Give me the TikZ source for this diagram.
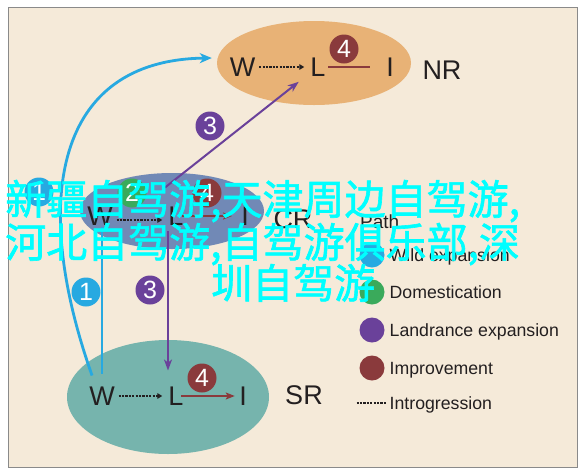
\documentclass[tikz,border=0pt]{standalone}
\usepackage{fontspec}
\setmainfont{Liberation Sans}
\newfontfamily\cjkfont[FakeBold=1.5]{Noto Sans CJK SC}
\usetikzlibrary{arrows.meta,shapes.geometric}
\definecolor{bgbeige}{HTML}{F5EAD9}
\definecolor{framegray}{HTML}{8A8A8A}
\definecolor{nrfill}{HTML}{E8B276}
\definecolor{crfill}{HTML}{7189B6}
\definecolor{srfill}{HTML}{76B4AD}
\definecolor{bluel}{HTML}{27A9E1}
\definecolor{purplel}{HTML}{6A419A}
\definecolor{greenl}{HTML}{3AAA5B}
\definecolor{redl}{HTML}{8A3A3C}
\definecolor{ink}{HTML}{231F20}
\definecolor{wmcyan}{HTML}{00FFFF}
\begin{document}
\begin{tikzpicture}[x=1pt,y=-1pt,
  letter/.style={font=\fontsize{27}{30}\selectfont, text=ink, inner sep=0pt},
  badge/.style={circle, inner sep=0pt, minimum size=29pt, text=white, font=\fontsize{25}{25}\selectfont},
  legdot/.style={circle, inner sep=0pt, minimum size=25pt},
  legtext/.style={anchor=base west, inner sep=0pt, text=ink, font=\fontsize{17.7}{20}\selectfont},
  wm/.style={anchor=base west, inner sep=0pt, text=wmcyan, font=\cjkfont\fontsize{41}{44}\selectfont},
  dotarrow/.style={draw=ink, line width=2pt, dash pattern=on 2.2pt off 1.2pt, -{Triangle[length=5pt,width=5.5pt]}, shorten <=3.7pt, shorten >=6pt},
  blueline/.style={draw=bluel, line width=2.8pt},
  purpleline/.style={draw=purplel, line width=2pt, -{Stealth[length=11pt,width=8pt,inset=3pt]}},
  redline/.style={draw=redl, line width=2.4pt},
  region/.style={ellipse, inner sep=0pt}
]
\useasboundingbox (0,0) rectangle (582,475);
\fill[white] (0,0) rectangle (582,475);
\filldraw[fill=bgbeige, draw=framegray, line width=1pt] (8,7) rectangle (577,467);

% regions
\node[region, fill=nrfill, minimum width=194pt, minimum height=84pt] (nr) at (314,63) {};
\node[region, fill=crfill, minimum width=184pt, minimum height=76pt] (cr) at (172,211) {};
\node[region, fill=srfill, minimum width=202pt, minimum height=114pt] (sr) at (168,397) {};

% letters
\node[letter] (nrW) at (242.5,67) {W};
\node[letter] (nrL) at (318,67) {L};
\node[letter] (nrI) at (390,67) {I};
\node[letter] (nrLab) at (442,70) {NR};

\node[letter] (crW) at (100,216) {W};
\node[letter] (crL) at (176,216) {L};
\node[letter] (crI) at (245,216) {I};
\node[letter] (crLab) at (293,219) {CR};

\node[letter] (srW) at (102,396) {W};
\node[letter] (srL) at (176,396) {L};
\node[letter] (srI) at (243,396) {I};
\node[letter] (srLab) at (304,395) {SR};

% connectors
\draw[blueline, -{Stealth[length=12pt,width=10pt,inset=3.5pt]}]
  ([xshift=3pt,yshift=11pt]srW.north west) .. controls (30,200) and (55,60) .. ([xshift=-5pt,yshift=5pt]nr.west);
\draw[blueline] ([xshift=2pt,yshift=-2pt]crW.south) -- ([yshift=13pt]srW.north);
\draw[purpleline] ([xshift=-11pt,yshift=19pt]crL.north) -- ([xshift=-11.5pt,yshift=-5.3pt]nrL.south west);
\draw[purpleline] ([xshift=-8pt,yshift=-6pt]crL.south) -- ([xshift=-8pt,yshift=16pt]srL.north);

\draw[dotarrow] (nrW.east) -- (nrL.west);
\draw[dotarrow] ([yshift=-4pt]crW.east) -- ([yshift=-4pt]crL.west);
\draw[dotarrow] (srW.east) -- (srL.west);

\draw[redline, shorten <=2.5pt, shorten >=16pt] (nrL.east) -- (nrI.west);
\draw[redline, -{Stealth[length=9pt,width=7pt,inset=2pt]}, shorten <=-2pt, shorten >=9pt] (crL.east) -- (crI.west);
\draw[redline, -{Stealth[length=9pt,width=7pt,inset=2pt]}, shorten <=-2.5pt, shorten >=4.3pt] (srL.east) -- (srI.west);

% badges
\node[badge, fill=redl] (b4nr) at (344,49) {4};
\node[badge, fill=greenl] (b2cr) at (132,193) {2};
\node[badge, fill=redl] (b4cr) at (207,193) {4};
\node[badge, fill=bluel] (b1up) at (39,192) {1};
\node[badge, fill=bluel] (b1low) at (86,292) {1};
\node[badge, fill=purplel] (b3low) at (150,290) {3};
\node[badge, fill=purplel] (b3up) at (210,126) {3};
\node[badge, fill=redl] (b4sr) at (202,378) {4};

% legend
\node[legtext, font=\fontsize{19}{22}\selectfont] (path) at (360,228) {Path};
\node[legdot, fill=bluel] (lg1) at (372,255) {};
\node[legtext] (lt1) at (389.5,261.3) {Wild expansion};
\node[legdot, fill=greenl] (lg2) at (372,292) {};
\node[legtext] (lt2) at (389.5,298.3) {Domestication};
\node[legdot, fill=purplel] (lg3) at (372,330) {};
\node[legtext] (lt3) at (389.5,336.3) {Landrance expansion};
\node[legdot, fill=redl] (lg4) at (372,368) {};
\node[legtext] (lt4) at (389.5,374.3) {Improvement};
\node[legtext] (lt5) at (389.5,409.3) {Introgression};
\draw[draw=ink, line width=2pt, dash pattern=on 2.2pt off 1.2pt] ([xshift=-33pt,yshift=6pt]lt5.base west) -- ([xshift=-3pt,yshift=6pt]lt5.base west);

% watermark
\node[wm] (wm1) at (5,214.5) {新疆自驾游,天津周边自驾游,};
\node[wm] (wm2) at (5,257.5) {河北自驾游,自驾游俱乐部,深};
\node[wm] (wm3) at (211,298.5) {圳自驾游};
\end{tikzpicture}
\end{document}
